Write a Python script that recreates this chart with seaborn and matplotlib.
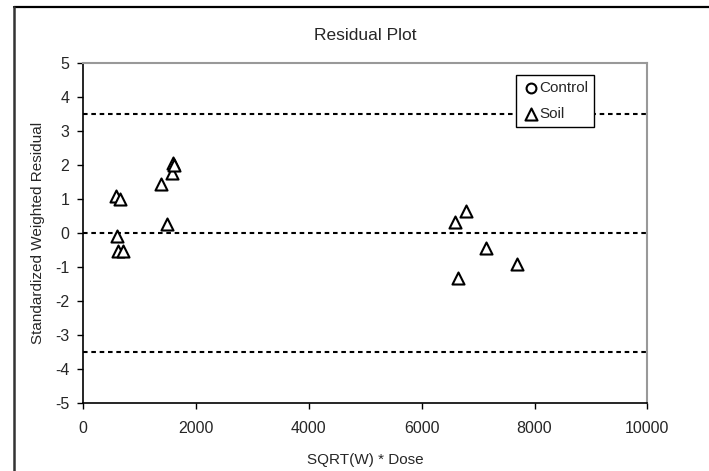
import seaborn as sns
import matplotlib.pyplot as plt
from matplotlib.lines import Line2D

# Soil residuals
soil_x = [580, 656, 603, 620, 698, 1383, 1489, 1572, 1596, 1614,
          6590, 6780, 7140, 7684, 6649]
soil_y = [1.08, 1.01, -0.10, -0.54, -0.54, 1.45, 0.26, 1.76, 2.06, 1.99,
          0.32, 0.65, -0.43, -0.92, -1.33]
# Control has no points in the chart, only a legend entry
control_x = []
control_y = []
limits = [3.5, 0.0, -3.5]

sns.set_style('white')
plt.rcParams['font.family'] = ['Liberation Sans', 'DejaVu Sans']
plt.rcParams['axes.unicode_minus'] = False

fig = plt.figure(figsize=(7.09, 4.71), dpi=100)
ax = fig.add_axes([0.1175, 0.1437, 0.7955, 0.7233])

ax.scatter(control_x, control_y, marker='o', s=50, facecolors='white',
           edgecolors='black', linewidths=1.5, label='Control')
sns.scatterplot(x=soil_x, y=soil_y, marker='^', s=75, color='white',
                edgecolor='black', linewidth=1.5, ax=ax, label='Soil', zorder=3)

for lim in limits:
    ax.axhline(lim, color='black', lw=1.5, ls=(0, (2.2, 1.8)), zorder=2)

ax.set_xlim(0, 10000)
ax.set_ylim(-5, 5)
ax.set_xticks(range(0, 10001, 2000))
ax.set_yticks(range(-5, 6))
ax.tick_params(direction='out', length=4, width=1, color='black',
               labelsize=11.5, bottom=True, left=True)
ax.tick_params(axis='x', pad=9)
ax.tick_params(axis='y', pad=6)

for side in ['left', 'bottom']:
    ax.spines[side].set_color('black')
    ax.spines[side].set_linewidth(1.2)
for side in ['top', 'right']:
    ax.spines[side].set_color('#999999')
    ax.spines[side].set_linewidth(1.5)

ax.set_title('Residual Plot', fontsize=12.5, pad=16)
ax.set_xlabel('SQRT(W) * Dose', fontsize=11, labelpad=12)
ax.set_ylabel('Standardized Weighted Residual', fontsize=11, labelpad=7)

leg = ax.legend(loc='upper left', bbox_to_anchor=(0.768, 0.963), frameon=True,
                fancybox=False, fontsize=11, handletextpad=0.0,
                handlelength=1.1, borderpad=0.4, labelspacing=0.75,
                borderaxespad=0)
leg.set_zorder(5)
leg.get_frame().set_edgecolor('black')
leg.get_frame().set_linewidth(1.0)
leg.get_frame().set_alpha(1)

# outer chart frame (top and left edges visible)
fig.add_artist(Line2D([14 / 709, 1], [1 - 7 / 471, 1 - 7 / 471],
                      color='black', lw=1.6, transform=fig.transFigure))
fig.add_artist(Line2D([14 / 709, 14 / 709], [0, 1 - 7 / 471],
                      color='#333333', lw=1.8, transform=fig.transFigure))

fig.savefig('out.png', dpi=100)
